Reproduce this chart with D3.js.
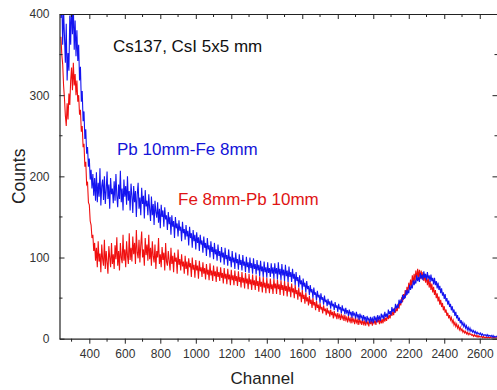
<!DOCTYPE html>
<html>
<head>
<meta charset="utf-8">
<script src="https://cdn.jsdelivr.net/npm/d3@7/dist/d3.min.js"></script>
<style>
  html, body { margin: 0; padding: 0; background: #fff; }
  svg { display: block; font-family: "Liberation Sans", Arial, sans-serif; }
</style>
</head>
<body>
<svg id="chart" width="497" height="390"></svg>
<script>
// Spectra sampled every 5 channels, starting at channel 240 (20 samples per row = 100 channels)
const channelStart = 240;
const channelStep = 5;

// Pb 10mm - Fe 8mm
const countsPbFe = [
  395, 418, 362, 405, 372, 340, 388, 318, 352, 330, 398, 362, 420, 375, 410, 356, 392, 348, 380, 342,
  362, 318, 335, 292, 305, 268, 280, 246, 258, 228, 236, 212, 222, 196, 208, 185, 203, 176, 198, 170,
  205, 168, 192, 175, 210, 164, 188, 196, 171, 200, 166, 183, 206, 172, 190, 160, 198, 178, 185, 167,
  194, 170, 203, 176, 162, 190, 172, 207, 168, 185, 158, 196, 175, 188, 165, 200, 170, 182, 158, 191,
  176, 155, 188, 168, 182, 150, 178, 192, 160, 174, 152, 186, 166, 176, 148, 183, 163, 170, 152, 178,
  160, 145, 175, 152, 166, 140, 170, 156, 149, 168, 143, 160, 136, 165, 150, 158, 138, 162, 147, 152,
  134, 156, 141, 150, 128, 152, 138, 145, 124, 150, 136, 142, 126, 146, 133, 138, 120, 144, 130, 135,
  122, 140, 126, 133, 115, 138, 124, 130, 112, 134, 120, 128, 110, 131, 118, 125, 108, 128, 116, 121,
  106, 126, 112, 118, 102, 124, 110, 115, 100, 120, 107, 113, 98, 118, 104, 110, 96, 116, 102, 108,
  94, 113, 100, 106, 91, 112, 98, 103, 90, 110, 96, 101, 88, 108, 94, 100, 86, 106, 93, 98,
  85, 104, 91, 97, 84, 103, 90, 95, 82, 101, 88, 94, 81, 100, 87, 93, 80, 99, 86, 92,
  79, 97, 84, 91, 77, 96, 83, 89, 76, 95, 82, 88, 75, 94, 81, 87, 76, 93, 80, 88,
  74, 93, 80, 87, 73, 94, 79, 86, 72, 92, 78, 85, 71, 91, 77, 84, 70, 89, 76, 82,
  70, 86, 74, 80, 66, 82, 71, 76, 63, 78, 67, 72, 60, 74, 64, 69, 57, 71, 61, 65,
  54, 66, 57, 61, 50, 63, 54, 57, 47, 59, 51, 54, 44, 56, 48, 51, 42, 53, 45, 48,
  40, 49, 42, 46, 37, 47, 40, 43, 35, 45, 38, 41, 33, 43, 36, 39, 31, 41, 34, 37,
  30, 38, 32, 35, 28, 36, 30, 33, 26, 34, 29, 31, 25, 33, 27, 30, 23, 31, 26, 28,
  22, 29, 24, 27, 20, 28, 23, 25, 19, 27, 22, 25, 19, 28, 23, 26, 20, 29, 24, 27,
  22, 31, 26, 29, 24, 33, 27, 31, 26, 36, 30, 34, 29, 39, 33, 37, 32, 43, 37, 41,
  38, 48, 43, 47, 44, 54, 48, 53, 50, 60, 54, 59, 56, 66, 60, 65, 62, 72, 66, 71,
  68, 78, 71, 76, 70, 81, 74, 79, 72, 83, 75, 80, 72, 82, 74, 78, 70, 79, 71, 75,
  67, 75, 66, 71, 62, 69, 60, 65, 56, 62, 53, 57, 49, 55, 46, 50, 42, 47, 39, 43,
  35, 40, 32, 36, 28, 33, 25, 29, 22, 26, 19, 23, 17, 20, 15, 18, 13, 16, 11, 14,
  10, 13, 9, 11, 8, 10, 7, 9, 6, 8, 6, 7, 5, 7, 4, 6, 4, 5, 4, 5,
  3, 5, 3, 4, 3, 4, 2, 4, 2, 3, 2, 3, 2
];

// Fe 8mm - Pb 10mm
const countsFePb = [
  372, 350, 338, 312, 296, 275, 262, 290, 270, 302, 288, 318, 334, 306, 340, 312, 326, 300, 318, 292,
  300, 276, 282, 255, 262, 236, 240, 212, 218, 190, 192, 168, 165, 145, 140, 124, 128, 108, 118, 96,
  112, 88, 120, 95, 105, 82, 116, 98, 90, 122, 86, 108, 94, 80, 114, 100, 88, 118, 92, 104,
  86, 115, 98, 125, 90, 108, 84, 118, 100, 93, 128, 96, 110, 88, 120, 102, 92, 130, 97, 112,
  95, 126, 104, 118, 92, 134, 106, 99, 122, 94, 115, 132, 100, 110, 90, 124, 103, 116, 96, 128,
  98, 112, 90, 120, 102, 94, 116, 86, 108, 100, 124, 92, 104, 88, 113, 97, 106, 84, 118, 95,
  90, 108, 96, 84, 112, 92, 102, 82, 106, 95, 100, 80, 110, 91, 98, 84, 104, 89, 95, 80,
  102, 86, 95, 78, 99, 88, 93, 76, 100, 85, 91, 75, 97, 84, 90, 74, 96, 83, 88, 76,
  94, 80, 87, 73, 92, 79, 85, 72, 93, 78, 84, 71, 90, 77, 83, 70, 89, 76, 82, 71,
  88, 75, 81, 68, 87, 74, 80, 67, 86, 73, 79, 66, 85, 72, 78, 66, 84, 71, 77, 65,
  83, 70, 76, 63, 82, 69, 75, 62, 81, 68, 74, 61, 80, 67, 73, 60, 79, 66, 72, 60,
  78, 65, 71, 58, 77, 64, 70, 57, 76, 63, 69, 56, 75, 62, 68, 56, 74, 61, 67, 55,
  74, 62, 68, 55, 73, 61, 67, 54, 72, 60, 66, 53, 71, 59, 65, 52, 70, 58, 64, 51,
  68, 57, 62, 50, 66, 55, 60, 48, 63, 52, 57, 45, 60, 49, 54, 43, 57, 46, 51, 41,
  53, 43, 48, 38, 50, 41, 45, 35, 47, 38, 42, 33, 44, 36, 39, 31, 41, 34, 37, 29,
  38, 31, 35, 27, 36, 29, 33, 25, 34, 28, 31, 24, 32, 26, 29, 23, 31, 25, 28, 22,
  29, 23, 26, 20, 28, 22, 25, 19, 27, 21, 24, 18, 26, 20, 23, 17, 25, 19, 22, 17,
  24, 18, 21, 16, 23, 18, 21, 15, 24, 18, 22, 16, 24, 19, 22, 17, 26, 20, 24, 18,
  25, 19, 24, 19, 27, 21, 26, 22, 30, 24, 29, 25, 34, 28, 33, 29, 38, 32, 37, 34,
  43, 37, 46, 41, 51, 45, 55, 49, 60, 53, 64, 57, 69, 61, 73, 64, 78, 68, 80, 70,
  84, 73, 86, 75, 85, 74, 84, 73, 82, 71, 80, 69, 77, 66, 74, 63, 71, 60, 68, 57,
  64, 54, 60, 50, 56, 46, 52, 42, 48, 39, 44, 35, 40, 32, 36, 28, 32, 25, 29, 23,
  26, 20, 23, 17, 20, 15, 18, 13, 16, 11, 14, 10, 12, 8, 10, 7, 9, 6, 8, 5,
  7, 5, 6, 4, 5, 3, 5, 3, 4, 2, 4, 2, 3, 2, 3, 1, 3, 1, 2, 1,
  2, 1, 2, 1, 2, 1, 1, 1, 2, 1, 1, 1, 1
];

const xMajorTicks = [400, 600, 800, 1000, 1200, 1400, 1600, 1800, 2000, 2200, 2400, 2600];
const xMinorTicks = [300, 500, 700, 900, 1100, 1300, 1500, 1700, 1900, 2100, 2300, 2500, 2700];
const yMajorTicks = [0, 100, 200, 300, 400];
const yMinorTicks = [50, 150, 250, 350];

const seriesNames = ["Pb 10mm-Fe 8mm", "Fe 8mm-Pb 10mm"];
const titleText = "Cs137, CsI 5x5 mm";

const svg = d3.select("#chart");
const plotLeft = 59.5, plotRight = 497.5, plotTop = 14, plotBottom = 338.7;

const x = d3.scaleLinear().domain([232, 2700]).range([plotLeft, plotRight]);
const y = d3.scaleLinear().domain([0, 400]).range([plotBottom, plotTop]);

svg.append("defs").append("clipPath").attr("id", "plotClip")
  .append("rect").attr("x", plotLeft).attr("y", plotTop)
  .attr("width", plotRight - plotLeft).attr("height", plotBottom - plotTop);

const toPoints = arr => arr.map((v, i) => [channelStart + i * channelStep, v]);
const line = d3.line().x(d => x(d[0])).y(d => y(d[1]));

const plot = svg.append("g").attr("clip-path", "url(#plotClip)");
plot.append("path").datum(toPoints(countsFePb))
  .attr("fill", "none").attr("stroke", "#f01010").attr("stroke-width", 1.1)
  .attr("d", line);
plot.append("path").datum(toPoints(countsPbFe))
  .attr("fill", "none").attr("stroke", "#1414f0").attr("stroke-width", 1.1)
  .attr("d", line);

const axisColor = "#222";
const labelColor = "#333";
const fmt = d3.format("d");

// Bottom axis: ticks point outward
const gx = svg.append("g").attr("transform", `translate(0,${plotBottom})`)
  .call(d3.axisBottom(x).tickValues(xMajorTicks).tickFormat(fmt).tickSize(5).tickPadding(4).tickSizeOuter(0));
gx.append("g").selectAll("line").data(xMinorTicks).join("line")
  .attr("x1", d => x(d)).attr("x2", d => x(d)).attr("y1", 0).attr("y2", 3);

// Top axis: ticks point into the plot
const gt = svg.append("g").attr("transform", `translate(0,${plotTop})`)
  .call(d3.axisTop(x).tickValues(xMajorTicks).tickSize(-5).tickFormat("").tickSizeOuter(0));
gt.append("g").selectAll("line").data(xMinorTicks).join("line")
  .attr("x1", d => x(d)).attr("x2", d => x(d)).attr("y1", 0).attr("y2", 3);

// Left axis: ticks point into the plot
const gy = svg.append("g").attr("transform", `translate(${plotLeft},0)`)
  .call(d3.axisLeft(y).tickValues(yMajorTicks).tickFormat(fmt).tickSize(-5).tickPadding(10).tickSizeOuter(0));
gy.append("g").selectAll("line").data(yMinorTicks).join("line")
  .attr("x1", 0).attr("x2", 3).attr("y1", d => y(d)).attr("y2", d => y(d));

// Right axis
const gr = svg.append("g").attr("transform", `translate(${plotRight},0)`)
  .call(d3.axisRight(y).tickValues(yMajorTicks).tickSize(-5).tickFormat("").tickSizeOuter(0));
gr.append("g").selectAll("line").data(yMinorTicks).join("line")
  .attr("x1", 0).attr("x2", -3).attr("y1", d => y(d)).attr("y2", d => y(d));

[gx, gt, gy, gr].forEach(g => {
  g.selectAll("path.domain").attr("stroke", axisColor).attr("stroke-width", 1.2);
  g.selectAll("line").attr("stroke", axisColor).attr("stroke-width", 1);
  g.selectAll("text").attr("fill", labelColor)
    .style("font-family", "'Liberation Sans', Arial, sans-serif").style("font-size", "12px");
});
gx.selectAll(".tick text").attr("dy", "0.9em");

svg.append("text").attr("x", (plotLeft + 465) / 2).attr("y", 384)
  .attr("text-anchor", "middle").attr("fill", "#222").style("font-size", "17px")
  .text("Channel");

svg.append("text").attr("transform", `translate(25,${(plotTop + plotBottom) / 2}) rotate(-90)`)
  .attr("text-anchor", "middle").attr("fill", "#222").style("font-size", "17.5px")
  .text("Counts");

svg.append("text").attr("x", 113).attr("y", 52)
  .attr("fill", "#111").style("font-size", "17px").text(titleText);
svg.append("text").attr("x", 117).attr("y", 155)
  .attr("fill", "#1414d8").style("font-size", "17px").text(seriesNames[0]);
svg.append("text").attr("x", 178).attr("y", 205)
  .attr("fill", "#e01414").style("font-size", "17px").text(seriesNames[1]);
</script>
</body>
</html>
